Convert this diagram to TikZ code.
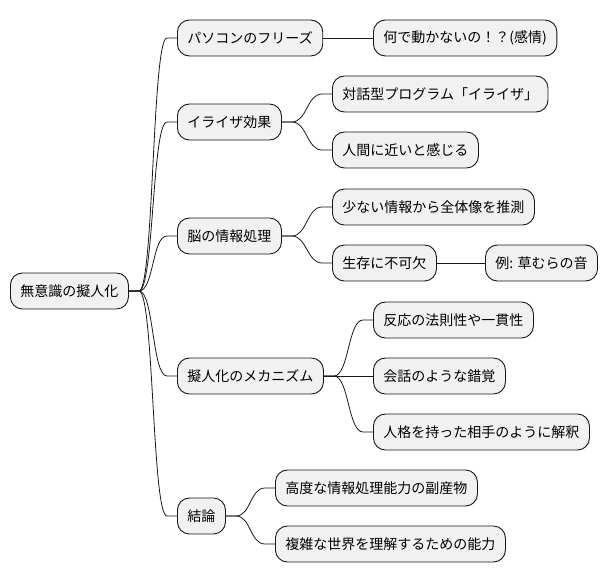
\documentclass[tikz,border=0pt]{standalone}
\usepackage{fontspec}
\setmainfont{Noto Sans CJK JP}
\usepackage{tikz}
\definecolor{boxfill}{HTML}{F1F1F1}
\definecolor{boxline}{HTML}{181818}
\tikzset{
	topic/.style={draw=boxline,fill=boxfill,rounded corners=12pt,line width=0.9pt,
		inner xsep=10pt,inner ysep=0pt,minimum height=36pt,anchor=west,
		font=\fontsize{14}{16}\selectfont},
	branch/.style={to path={(\tikztostart.east) -- ++(10pt,0)
		.. controls +(15pt,0) and +(-15pt,0) .. ([xshift=-10pt]\tikztotarget.west)
		-- (\tikztotarget.west)}},
	link/.style={line width=0.8pt,draw=boxline}
}

\begin{document}
\begin{tikzpicture}[x=1pt,y=-1pt]
		\useasboundingbox (0,0) rectangle (610,583);
		%root and first level
		\node [topic] (root) at (10,291) {無意識の擬人化};
		\node [topic] (pc) at (177,38) {パソコンのフリーズ};
		\node [topic] (eliza) at (177,122) {イライザ効果};
		\node [topic] (brain) at (177,236) {脳の情報処理};
		\node [topic] (mech) at (177,376) {擬人化のメカニズム};
		\node [topic] (concl) at (177,516) {結論};
		%second level
		\node [topic] (why) at (373,38) {何で動かないの！？(感情)};
		\node [topic] (prog) at (332,94) {対話型プログラム「イライザ」};
		\node [topic] (human) at (332,150) {人間に近いと感じる};
		\node [topic] (guess) at (332,207) {少ない情報から全体像を推測};
		\node [topic] (surv) at (332,263) {生存に不可欠};
		\node [topic] (grass) at (485,263) {例: 草むらの音};
		\node [topic] (rule) at (373,320) {反応の法則性や一貫性};
		\node [topic] (talk) at (373,376) {会話のような錯覚};
		\node [topic] (person) at (373,432) {人格を持った相手のように解釈};
		\node [topic] (byprod) at (275,488) {高度な情報処理能力の副産物};
		\node [topic] (world) at (275,544) {複雑な世界を理解するための能力};
		%connectors
		\foreach \t in {pc,eliza,brain,mech,concl}
			\draw [link,branch] (root) to (\t);
		\draw [link] (pc) -- (why);
		\draw [link] (surv) -- (grass);
		\draw [link] (mech) -- (talk);
		\foreach \s/\t in {eliza/prog,eliza/human,brain/guess,brain/surv,mech/rule,mech/person,concl/byprod,concl/world}
			\draw [link,branch] (\s) to (\t);
\end{tikzpicture}
\end{document}
